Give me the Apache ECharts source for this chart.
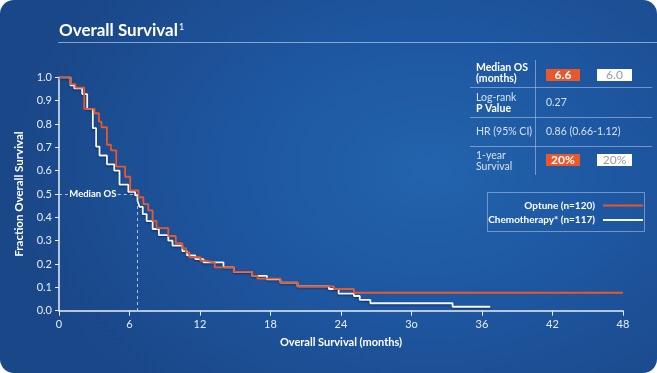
<!DOCTYPE html>
<html>
<head>
<meta charset="utf-8">
<script src="https://cdn.jsdelivr.net/npm/echarts@6/dist/echarts.min.js"></script>
<style>
html,body{margin:0;padding:0;background:#ffffff;}
#chart{width:657px;height:373px;border-radius:14px;overflow:hidden;
background:radial-gradient(ellipse 420px 300px at 430px 170px,#2363ad 0%,#1e57a1 45%,#1a4787 100%);}
</style>
</head>
<body>
<div id="chart"></div>
<script>
// Kaplan-Meier steps: [month, survival fraction after the step]
const optuneSteps = [[0,1.0],[0.98,0.971],[1.4,0.956],[2.15,0.865],[3.02,0.846],[3.4,0.81],[3.62,0.786],[4.08,0.711],[4.42,0.687],[4.87,0.617],[5.63,0.574],[6.06,0.515],[6.76,0.486],[7.18,0.457],[7.6,0.43],[7.97,0.385],[8.3,0.354],[9.3,0.32],[9.94,0.289],[10.5,0.268],[10.8,0.25],[11.1,0.229],[12.04,0.214],[12.5,0.206],[13.26,0.186],[14.88,0.166],[16.44,0.149],[16.9,0.137],[18.85,0.12],[20.3,0.104],[23.4,0.093],[25.1,0.077],[48,0.077]];
const chemoSteps = [[0,1.0],[0.98,0.965],[1.3,0.953],[1.97,0.928],[2.4,0.865],[2.88,0.782],[3.16,0.703],[3.45,0.665],[4.08,0.627],[4.7,0.6],[5.15,0.54],[5.9,0.509],[6.48,0.494],[6.68,0.471],[6.85,0.445],[7.13,0.414],[7.46,0.384],[7.97,0.35],[8.5,0.324],[9.3,0.3],[9.66,0.279],[10.5,0.255],[10.9,0.237],[11.6,0.221],[12.3,0.207],[14.0,0.186],[14.88,0.166],[16.44,0.149],[17.7,0.134],[18.85,0.12],[20.3,0.104],[22.97,0.093],[23.8,0.073],[25.1,0.063],[25.6,0.046],[26.5,0.032],[33.5,0.017],[36.7,0.017]];
const xTickLabels = {0:'0',6:'6',12:'12',18:'18',24:'24',30:'3o',36:'36',42:'42',48:'48'};
const medianX = 6.7;
const seriesNames = ['Optune (n=120)','Chemotherapy* (n=117)'];
const tableRows = [
  {label:['Median OS','(months)'], bold:[true,true], values:['6.6','6.0']},
  {label:['Log-rank','P Value'], bold:[false,true], text:'0.27'},
  {label:['HR (95% CI)'], bold:[false], text:'0.86 (0.66-1.12)'},
  {label:['1-year','Survival'], bold:[false,false], values:['20%','20%']}
];

const ORANGE = '#e8582a';
const WHITE = '#f4f8fd';
const FONT = 'Lato, "Open Sans", sans-serif';
const TXT = '#e6edf8';

const chart = echarts.init(document.getElementById('chart'), null, {renderer:'canvas'});

const g = [];
g.push({type:'text', left:59, top:19, style:{
  text:'{t|Overall Survival}{s|1}',
  rich:{t:{fill:'#ffffff', fontSize:17, fontWeight:'bold', fontFamily:FONT, verticalAlign:'bottom', lineHeight:20},
        s:{fill:'#ffffff', fontSize:9, fontFamily:FONT, verticalAlign:'top', lineHeight:20, padding:[4,0,0,1]}}
}});
g.push({type:'line', shape:{x1:58,y1:42.5,x2:657,y2:42.5}, style:{stroke:'rgba(170,195,228,0.75)', lineWidth:1}});

// table
const rowTops = [58, 88, 118, 146];
const rowH = [30, 30, 28, 30];
const lineCol = 'rgba(170,195,228,0.6)';
g.push({type:'line', shape:{x1:535.5,y1:60,x2:535.5,y2:175}, style:{stroke:lineCol, lineWidth:1}});
[87.5,117.5,146.5].forEach(y=>g.push({type:'line', shape:{x1:470,y1:y,x2:652,y2:y}, style:{stroke:lineCol, lineWidth:1}}));
tableRows.forEach((r,i)=>{
  const cy = rowTops[i] + rowH[i]/2;
  const n = r.label.length;
  r.label.forEach((t,j)=>{
    const y = n===1 ? cy : cy + (j===0 ? -5.5 : 5.5);
    g.push({type:'text', x:476, y:y, style:{text:t, fill: r.bold[j] ? '#ffffff' : '#d5e0f0', font:(r.bold[j]?'bold ':'')+'10.5px '+FONT, verticalAlign:'middle', align:'left'}});
  });
  if (r.values){
    const by = (i===0)? 69 : 154;
    g.push({type:'rect', shape:{x:546,y:by,width:34,height:12}, style:{fill:ORANGE}});
    g.push({type:'text', x:563, y:by+6.5, style:{text:r.values[0], fill:'#ffffff', font:'bold 12px '+FONT, align:'center', verticalAlign:'middle'}});
    g.push({type:'rect', shape:{x:597,y:by,width:35,height:12}, style:{fill:'#ffffff'}});
    g.push({type:'text', x:614.5, y:by+6.5, style:{text:r.values[1], fill:'#9a9a9a', font:'12px '+FONT, align:'center', verticalAlign:'middle'}});
  } else {
    g.push({type:'text', x:546, y:cy, style:{text:r.text, fill:'#d5e0f0', font:'10.5px '+FONT, verticalAlign:'middle', align:'left'}});
  }
});

// legend box
g.push({type:'rect', shape:{x:487.5,y:192.5,width:157,height:39}, style:{fill:'rgba(0,0,0,0)', stroke:'rgba(150,175,215,0.7)', lineWidth:1}});
[[seriesNames[0],205.5,ORANGE],[seriesNames[1],220,WHITE]].forEach(([t,y,c])=>{
  g.push({type:'text', x:595, y:y, style:{text:t, fill:'#ffffff', font:'bold 10px '+FONT, align:'right', verticalAlign:'middle'}});
  g.push({type:'line', shape:{x1:603,y1:y,x2:643,y2:y}, style:{stroke:c, lineWidth:2}});
});

const option = {
  animation:false,
  backgroundColor:'transparent',
  textStyle:{fontFamily:FONT},
  grid:{left:59, right:34, top:77.3, bottom:62.3, containLabel:false},
  xAxis:{
    type:'value', min:0, max:48, interval:6,
    name:'Overall Survival (months)', nameLocation:'middle', nameGap:26,
    nameTextStyle:{color:'#ffffff', fontSize:11, fontWeight:'bold', fontFamily:FONT},
    axisLine:{show:true, lineStyle:{color:'#e8eef8', width:1.5}},
    axisTick:{show:true, length:5, lineStyle:{color:'#e8eef8'}},
    axisLabel:{color:TXT, fontSize:11, margin:8, fontFamily:FONT, formatter:v=>xTickLabels[v]!==undefined?xTickLabels[v]:''},
    splitLine:{show:false}
  },
  yAxis:{
    type:'value', min:0, max:1, interval:0.1,
    name:'Fraction Overall Survival', nameLocation:'middle', nameGap:32, nameRotate:90,
    nameTextStyle:{color:'#ffffff', fontSize:11.5, fontWeight:'bold', fontFamily:FONT},
    axisLine:{show:true, lineStyle:{color:'#e8eef8', width:1.5}},
    axisTick:{show:true, length:4, lineStyle:{color:'#e8eef8'}},
    axisLabel:{color:TXT, fontSize:11, margin:7, fontFamily:FONT, formatter:v=>v.toFixed(1)},
    splitLine:{show:false}
  },
  series:[
    {
      name:seriesNames[1], type:'line', step:'end', data:chemoSteps, showSymbol:false,
      lineStyle:{color:WHITE, width:1.8, shadowColor:'rgba(0,20,60,0.6)', shadowBlur:2, shadowOffsetY:1},
      z:3,
      markLine:{
        silent:true, symbol:'none',
        lineStyle:{color:'rgba(200,215,238,0.85)', type:[3,3], width:1},
        label:{show:false},
        data:[
          [{coord:[0,0.5]},{coord:[0.75,0.5]}],
          [{coord:[5.0,0.5]},{coord:[medianX,0.5]}],
          [{coord:[medianX,0.5]},{coord:[medianX,0]}]
        ]
      },
      markPoint:{
        silent:true, symbol:'circle', symbolSize:0,
        label:{show:true, formatter:'Median OS', color:'#ffffff', fontSize:9.5, fontWeight:'bold', fontFamily:FONT, position:'inside'},
        data:[{coord:[2.88,0.5]}]
      }
    },
    {
      name:seriesNames[0], type:'line', step:'end', data:optuneSteps, showSymbol:false,
      lineStyle:{color:ORANGE, width:1.8},
      z:4
    }
  ],
  graphic:g
};
chart.setOption(option);
</script>
</body>
</html>
